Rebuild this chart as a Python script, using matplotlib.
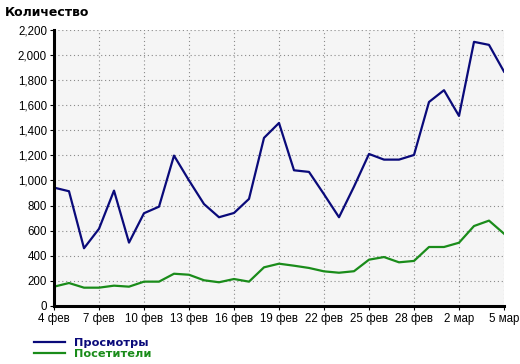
import matplotlib
matplotlib.use("Agg")
import matplotlib.pyplot as plt
from matplotlib.ticker import FuncFormatter

days = ["4 фев", "5 фев", "6 фев", "7 фев", "8 фев", "9 фев", "10 фев", "11 фев",
        "12 фев", "13 фев", "14 фев", "15 фев", "16 фев", "17 фев", "18 фев", "19 фев",
        "20 фев", "21 фев", "22 фев", "23 фев", "24 фев", "25 фев", "26 фев", "27 фев",
        "28 фев", "29 фев", "1 мар", "2 мар", "3 мар", "4 мар", "5 мар"]
views = [943, 914, 460, 615, 919, 505, 739, 791, 1198, 1000, 812, 707, 741, 853,
         1339, 1458, 1081, 1068, 890, 707, 951, 1211, 1166, 1166, 1203, 1625, 1719,
         1514, 2104, 2080, 1867]
visitors = [154, 183, 146, 146, 162, 154, 194, 194, 257, 249, 205, 189, 215, 194,
            308, 337, 321, 303, 276, 265, 277, 369, 390, 348, 359, 470, 470, 504,
            637, 680, 576]
series_names = ["Просмотры", "Посетители"]
series_colors = ["#0a0a7a", "#1a8c1a"]
y_ticks = list(range(0, 2201, 200))
title = "Количество"

plt.rcParams['font.family'] = ['Liberation Sans', 'DejaVu Sans']

W, H = 520, 364
fig = plt.figure(figsize=(W / 100, H / 100), dpi=100)
ax = fig.add_axes([54 / W, (H - 306) / H, 450 / W, (306 - 29.8) / H])
ax.set_facecolor("#f5f5f5")

x = list(range(len(days)))
l1, = ax.plot(x, views, color=series_colors[0], lw=1.6, label=series_names[0])
l2, = ax.plot(x, visitors, color=series_colors[1], lw=1.6, label=series_names[1])

ax.set_xlim(0, len(days) - 1)
ax.set_ylim(0, 2200)
ax.set_yticks(y_ticks)
ax.yaxis.set_major_formatter(FuncFormatter(lambda v, p: f"{int(v):,}"))
xt = x[::3]
ax.set_xticks(xt)
ax.set_xticklabels([days[i] for i in xt])

for s in ["top", "right"]:
    ax.spines[s].set_visible(False)
for s in ["left", "bottom"]:
    ax.spines[s].set_linewidth(2.2)
    ax.spines[s].set_color("black")

ax.tick_params(axis="both", length=3, width=0.8, color="black", labelsize=8.3, pad=2)
ax.grid(True, color="#8a8a8a", linestyle=(0, (1, 2.5)), linewidth=0.8)
ax.set_axisbelow(True)
for sp in ax.spines.values():
    sp.set_zorder(3)

fig.text(5 / W, 1 - 13 / H, title, fontsize=9, fontweight="bold", va="center", ha="left",
         family=["DejaVu Sans"])

leg = fig.legend(handles=[l1, l2], loc="upper left", bbox_to_anchor=(34 / W, 1 - 338 / H),
                 frameon=False, handlelength=2.7, handletextpad=0.8, labelspacing=0.1,
                 borderpad=0, borderaxespad=0,
                 prop={"weight": "bold", "size": 8.2, "family": "DejaVu Sans"},
                 labelcolor="linecolor")

fig.savefig("out.png", dpi=100)
